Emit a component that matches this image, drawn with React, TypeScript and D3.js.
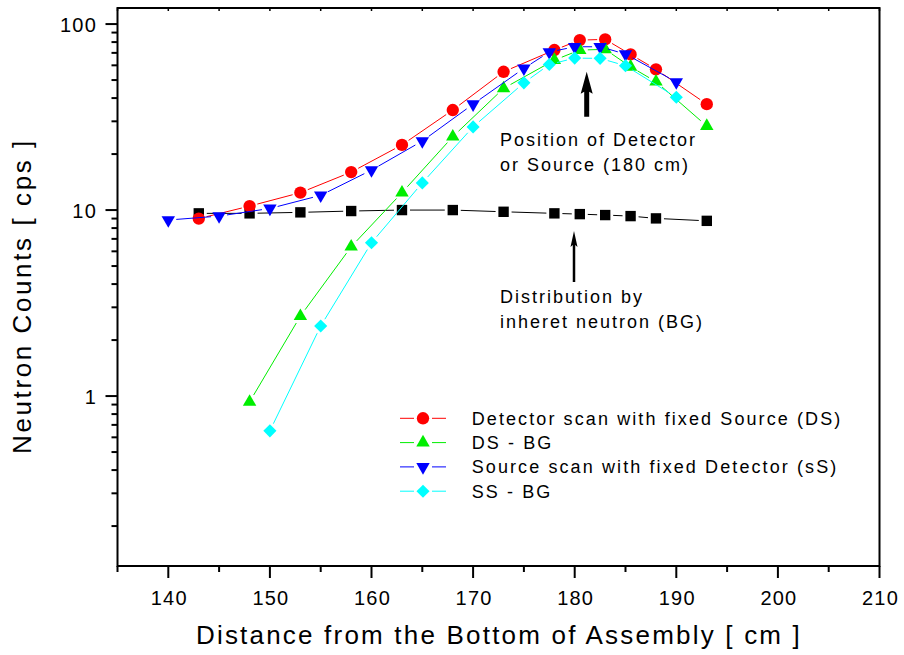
import React from "react";
import * as d3 from "d3";

// ---- data ----
const xDS = [143, 148, 153, 158, 163, 168, 173, 178, 180.5, 183, 185.5, 188, 193];
const yDS = [9.0, 10.5, 12.4, 16.0, 22.4, 34.5, 55.4, 72.5, 82, 82.7, 68.7, 57.1, 37.1];

const xDSBG = [148, 153, 158, 163, 168, 173, 178, 180.5, 183, 185.5, 188, 193];
const yDSBG = [0.93, 2.69, 6.35, 12.4, 24.8, 45.1, 64, 72.5, 73.1, 58.9, 49, 28.3];

const xSS = [140, 145, 150, 155, 160, 165, 170, 175, 177.5, 180, 182.5, 185, 190];
const ySS = [8.84, 9.28, 10.2, 12.0, 16.4, 23.5, 37.1, 57.8, 70.7, 75.5, 75.5, 69, 48.8];

const xSSBG = [150, 155, 160, 165, 170, 175, 177.5, 180, 182.5, 185, 190];
const ySSBG = [0.65, 2.38, 6.67, 14.0, 28.0, 48.3, 60.6, 65.6, 65.4, 59.7, 40.4];

const xBG = [143, 148, 153, 158, 163, 168, 173, 178, 180.5, 183, 185.5, 188, 193];
const yBG = [9.6, 9.6, 9.72, 9.88, 10.0, 10.0, 9.79, 9.6, 9.51, 9.4, 9.28, 9.02, 8.75];

const xTicks = [140, 150, 160, 170, 180, 190, 200, 210];
const yTickLabels = ["1", "10", "100"];

const legendNames = [
  "Detector scan with fixed Source (DS)",
  "DS - BG",
  "Source scan with fixed Detector (sS)",
  "SS - BG",
];

const W = 904;
const H = 655;
const left = 117.5;
const right = 879.5;
const top = 8;
const bottom = 566;
const FONT = "'Liberation Sans', Arial, Helvetica, sans-serif";

const x = d3.scaleLinear().domain([135, 210]).range([left, right]);
const y = d3.scaleLog().domain([0.122, 122]).range([bottom, top]);

type Shape = "circle" | "up" | "down" | "diamond" | "square";

const markerPath = (shape: Shape) => {
  if (shape === "circle") return d3.symbol(d3.symbolCircle, 120)()!;
  if (shape === "square") return d3.symbol(d3.symbolSquare, 108)()!;
  if (shape === "diamond") return d3.symbol(d3.symbolSquare, 86)()!;
  return d3.symbol(d3.symbolTriangle, 78)()!;
};
const markerRotate = (shape: Shape) =>
  shape === "down" ? 180 : shape === "diamond" ? 45 : 0;

const series = [
  { name: "BG", xs: xBG, ys: yBG, color: "#000000", shape: "square" as Shape },
  { name: legendNames[0], xs: xDS, ys: yDS, color: "#ff0000", shape: "circle" as Shape },
  { name: legendNames[1], xs: xDSBG, ys: yDSBG, color: "#00ee00", shape: "up" as Shape },
  { name: legendNames[2], xs: xSS, ys: ySS, color: "#0000ff", shape: "down" as Shape },
  { name: legendNames[3], xs: xSSBG, ys: ySSBG, color: "#00ffff", shape: "diamond" as Shape },
];

// line segments between markers, cut short so they stop before each marker
function gappedSegments(xs: number[], ys: number[], gap: number) {
  const pts = xs.map((v, i) => [x(v), y(ys[i])]);
  const segs: string[] = [];
  for (let i = 0; i < pts.length - 1; i++) {
    const [x0, y0] = pts[i];
    const [x1, y1] = pts[i + 1];
    const len = Math.hypot(x1 - x0, y1 - y0);
    if (len <= gap * 2) continue;
    const ux = (x1 - x0) / len;
    const uy = (y1 - y0) / len;
    segs.push(
      d3.line()([
        [x0 + ux * gap, y0 + uy * gap],
        [x1 - ux * gap, y1 - uy * gap],
      ])!
    );
  }
  return segs;
}

function Marker({ cx, cy, shape, color }: { cx: number; cy: number; shape: Shape; color: string }) {
  return (
    <path
      d={markerPath(shape)}
      transform={`translate(${cx},${cy}) rotate(${markerRotate(shape)})`}
      fill={color}
    />
  );
}

function Arrow({ cx, tip, base, shaft, headW, headL }: { cx: number; tip: number; base: number; shaft: number; headW: number; headL: number }) {
  const p = [
    [cx, tip],
    [cx + headW / 2, tip + headL],
    [cx + shaft / 2, tip + headL - 2],
    [cx + shaft / 2, base],
    [cx - shaft / 2, base],
    [cx - shaft / 2, tip + headL - 2],
    [cx - headW / 2, tip + headL],
  ];
  return <path d={d3.line()(p as [number, number][])! + "Z"} fill="#000" />;
}

export default function App() {
  const xMinor = d3.range(135, 211, 5);
  const yMinor: number[] = [];
  [0.1, 1, 10].forEach((dec) => {
    for (let k = 2; k <= 9; k++) {
      const v = dec * k;
      if (v >= 0.122 && v <= 122) yMinor.push(v);
    }
  });
  const yMajor = yTickLabels.map(Number);

  return (
    <svg width={W} height={H} style={{ position: "absolute", left: 0, top: 0, background: "#fff" }} fontFamily={FONT}>
      <rect width={W} height={H} fill="#fff" />

      {/* series */}
      {series.map((s) => (
        <g key={s.name}>
          {gappedSegments(s.xs, s.ys, 8).map((d, i) => (
            <path key={i} d={d} stroke={s.color} strokeWidth={1} fill="none" />
          ))}
          {s.xs.map((v, i) => (
            <Marker key={i} cx={x(v)} cy={y(s.ys[i])} shape={s.shape} color={s.color} />
          ))}
        </g>
      ))}

      {/* frame */}
      <rect x={left} y={top} width={right - left} height={bottom - top} fill="none" stroke="#000" strokeWidth={2} />

      {/* x ticks */}
      {xMinor.map((v) => {
        const major = v % 10 === 0;
        return (
          <g key={v}>
            <line x1={x(v)} x2={x(v)} y1={bottom} y2={bottom + (major ? 12 : 6)} stroke="#000" strokeWidth={2} />
            <line x1={x(v)} x2={x(v)} y1={top} y2={top + 3} stroke="#000" strokeWidth={1.5} />
          </g>
        );
      })}
      {xTicks.map((v) => (
        <text key={v} x={x(v) + 1} y={605} fontSize={20} letterSpacing={1.2} textAnchor="middle">
          {v}
        </text>
      ))}

      {/* y ticks */}
      {yMinor.map((v) => (
        <line key={v} x1={left - 6} x2={left} y1={y(v)} y2={y(v)} stroke="#000" strokeWidth={2} />
      ))}
      {yMajor.map((v, i) => (
        <g key={v}>
          <line x1={left - 12} x2={left} y1={y(v)} y2={y(v)} stroke="#000" strokeWidth={2} />
          <text x={97} y={y(v) + 7.5} fontSize={20} letterSpacing={1.2} textAnchor="end">
            {yTickLabels[i]}
          </text>
        </g>
      ))}

      {/* axis titles */}
      <text x={499} y={644} fontSize={26} letterSpacing={2.2} textAnchor="middle">
        Distance from the Bottom of Assembly [ cm ]
      </text>
      <text
        transform={`translate(31,296) rotate(-90)`}
        fontSize={26}
        letterSpacing={2.6}
        textAnchor="middle"
      >
        Neutron Counts [ cps ]
      </text>

      {/* annotations */}
      <Arrow cx={586.7} tip={71.7} base={116.7} shaft={5} headW={12} headL={22} />
      <text x={500} y={146} fontSize={18} letterSpacing={2}>Position of Detector</text>
      <text x={500} y={171} fontSize={18} letterSpacing={2}>or Source (180 cm)</text>

      <Arrow cx={574} tip={231} base={282} shaft={2.5} headW={7} headL={16} />
      <text x={500} y={303} fontSize={18} letterSpacing={2}>Distribution by</text>
      <text x={500} y={328} fontSize={18} letterSpacing={2}>inheret neutron (BG)</text>

      {/* legend */}
      {series.slice(1).map((s, i) => {
        const ly = 418.3 + i * 24.3;
        return (
          <g key={s.name}>
            <line x1={400} x2={414} y1={ly} y2={ly} stroke={s.color} strokeWidth={1} />
            <line x1={432} x2={446} y1={ly} y2={ly} stroke={s.color} strokeWidth={1} />
            <Marker cx={423} cy={ly} shape={s.shape} color={s.color} />
            <text x={471.7} y={ly + 6.5} fontSize={18} letterSpacing={2.1}>
              {s.name}
            </text>
          </g>
        );
      })}
    </svg>
  );
}
